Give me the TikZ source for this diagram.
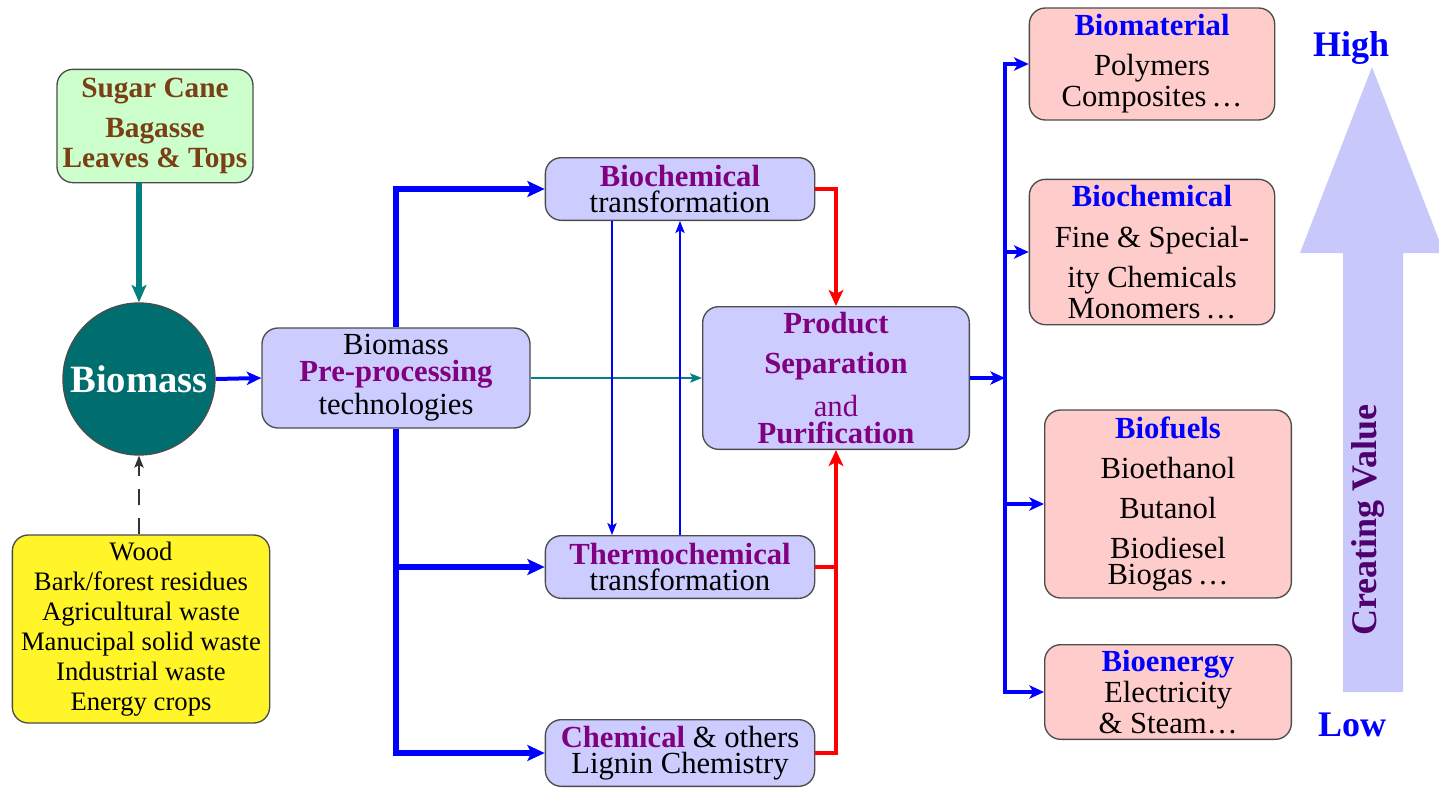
\documentclass[tikz,border=0pt]{standalone}
\usepackage{fontspec}
\setmainfont{Liberation Serif}
\usetikzlibrary{arrows.meta}

\definecolor{lavfill}{RGB}{204,204,255}
\definecolor{pinkfill}{RGB}{255,204,204}
\definecolor{canefill}{RGB}{204,255,204}
\definecolor{woodfill}{RGB}{255,245,40}
\definecolor{canetext}{RGB}{122,63,20}
\definecolor{massfill}{RGB}{0,110,110}
\definecolor{tealline}{RGB}{0,128,128}
\definecolor{stagepurple}{RGB}{128,0,128}
\definecolor{valuepurple}{RGB}{80,0,110}
\definecolor{valuearrow}{RGB}{200,200,250}

\newcommand{\stagetitle}[1]{\textcolor{stagepurple}{\textbf{#1}}}
\newcommand{\outtitle}[1]{\textcolor{blue}{\textbf{#1}}}

\tikzset{every picture/.style={line width=0.75pt}}
\tikzset{
  box/.style={draw=black!70, line width=1pt, rounded corners=12pt, align=center, inner sep=0pt, font=\fontsize{23}{20}\selectfont},
  lavbox/.style={box, fill=lavfill},
  pinkbox/.style={box, fill=pinkfill},
  bigflow/.style={draw=blue, line width=4.5pt, -{Stealth[length=13pt,width=12pt,inset=3pt]}},
  busflow/.style={draw=blue, line width=3pt, -{Stealth[length=11pt,width=10pt,inset=3pt]}},
  thinflow/.style={draw=blue, line width=1.3pt, -{Stealth[length=9pt,width=7pt,inset=2pt]}},
  redflow/.style={draw=red, line width=3pt, -{Stealth[length=12pt,width=11pt,inset=3pt]}},
  valuelabel/.style={text=blue, font=\fontsize{27}{27}\selectfont\bfseries}
}

\begin{document}
\begin{tikzpicture}[x=0.75pt,y=0.75pt,yscale=-1,xscale=1]
\useasboundingbox (0,0) rectangle (1439,789);

%Feedstock boxes and biomass
\node[box, fill=canefill, minimum width=147pt, minimum height=85pt, text=canetext, font=\fontsize{22}{20}\selectfont\bfseries] (cane) at (155,126) {Sugar Cane\\[10pt]Bagasse\\[2pt]Leaves \& Tops};
\node[circle, draw=black!70, line width=1pt, fill=massfill, minimum size=114pt, inner sep=0pt, text=white, font=\fontsize{29}{30}\selectfont\bfseries] (bm) at (139,379) {Biomass};
\node[box, fill=woodfill, minimum width=193pt, minimum height=141pt, font=\fontsize{20}{22.5}\selectfont] (wood) at (141,629) {Wood\\Bark/forest residues\\Agricultural waste\\Manucipal solid waste\\Industrial waste\\Energy crops};

%Processing boxes
\node[lavbox, minimum width=201pt, minimum height=75pt] (pre) at (396,378) {Biomass\\\stagetitle{Pre-processing}\\[3pt]technologies};
\node[lavbox, minimum width=202pt, minimum height=47pt] (bioc) at (680,189) {\stagetitle{Biochemical}\\transformation};
\node[lavbox, minimum width=202pt, minimum height=47pt] (thermo) at (680,567) {\stagetitle{Thermochemical}\\transformation};
\node[lavbox, minimum width=202pt, minimum height=50pt] (chem) at (680,753) {\stagetitle{Chemical} \& others\\Lignin Chemistry};
\node[lavbox, minimum width=200pt, minimum height=107pt] (prod) at (836,378) {\stagetitle{Product}\\[10pt]\stagetitle{Separation}\\[10pt]\textcolor{stagepurple}{and}\\\stagetitle{Purification}};

%Product boxes
\node[pinkbox, minimum width=184pt, minimum height=84pt] (biomat) at (1152,64) {\outtitle{Biomaterial}\\[10pt]Polymers\\[2pt]Composites\,\ldots};
\node[pinkbox, minimum width=184pt, minimum height=109pt] (finechem) at (1152,252) {\outtitle{Biochemical}\\[11pt]Fine \& Special-\\[8pt]ity Chemicals\\[2pt]Monomers\,\ldots};
\node[pinkbox, minimum width=185pt, minimum height=141pt] (fuels) at (1168,504) {\outtitle{Biofuels}\\[10pt]Bioethanol\\[10pt]Butanol\\[10pt]Biodiesel\\Biogas\,\ldots};
\node[pinkbox, minimum width=185pt, minimum height=71pt] (energy) at (1168,692) {\outtitle{Bioenergy}\\[1pt]Electricity\\[2pt]\& Steam\ldots};

%Value arrow
\fill[valuearrow] (1343,692) -- (1343,253) -- (1300,253) -- (1372,67) -- (1444,253) -- (1403,253) -- (1403,692) -- cycle;
\node[valuelabel] (high) at (1351,48) {High};
\node[valuelabel] (low) at (1352,725) {Low};
\node[rotate=90, text=valuepurple, font=\fontsize{27}{27}\selectfont\bfseries] (value) at (1368,520) {Creating Value};

%Connectors
\draw[tealline, line width=4pt, -{Stealth[length=13pt,width=11pt,inset=3pt]}] (cane.south -| bm.north) -- (bm.north);
\draw[black!80, line width=1.5pt, dash pattern=on 12pt off 10pt, -{Stealth[length=9pt,width=7pt,inset=2pt]}] (wood.north -| bm.south) -- (bm.south);
\draw[busflow] (bm.east) -- (pre.west);
\draw[bigflow] (pre.north) |- (bioc.west);
\draw[bigflow] (pre.south) |- (chem.west);
\draw[bigflow] (pre.south |- thermo.west) -- (thermo.west);
\draw[tealline, line width=1.3pt, -{Stealth[length=9pt,width=7pt,inset=2pt]}] (pre.east) -- (prod.west);
\coordinate (dn) at (612,0);
\draw[thinflow] (bioc.south -| dn) -- (thermo.north -| dn);
\draw[thinflow] (thermo.north) -- (bioc.south);
\draw[redflow] (bioc.east) -| (prod.north);
\draw[redflow] (chem.east) -| (prod.south);
\draw[red, line width=3pt] (thermo.east) -- (thermo.east -| prod.south);

\coordinate (bus) at (1005,378);
\draw[busflow] (prod.east) -- (bus);
\draw[busflow] (bus) |- (biomat.west);
\draw[busflow] (bus) |- (finechem.west);
\draw[busflow] (bus) |- (fuels.west);
\draw[busflow] (bus) |- (energy.west);

\end{tikzpicture}
\end{document}
